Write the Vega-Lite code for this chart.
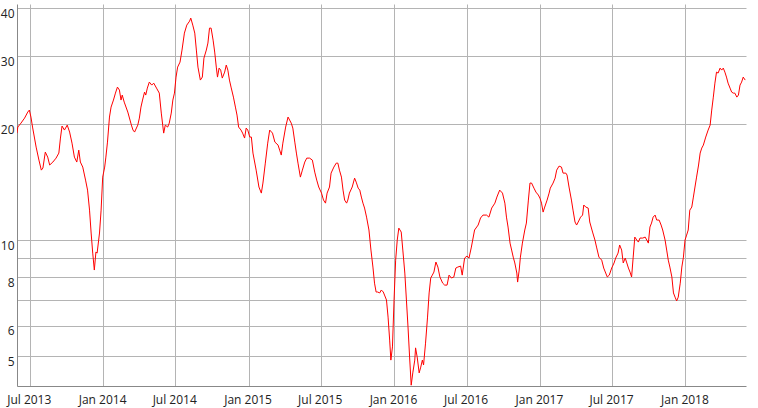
{
  "$schema": "https://vega.github.io/schema/vega-lite/v6.json",
  "width": 729,
  "height": 382,
  "autosize": {"type": "none"},
  "padding": {"left": 17, "top": 4, "right": 12, "bottom": 22},
  "background": "white",
  "config": {
    "view": {"stroke": null},
    "font": "Open Sans",
    "axis": {
      "domainColor": "#888888",
      "gridColor": "#b4b4b4",
      "ticks": false,
      "tickSize": 0,
      "labelFont": "Open Sans",
      "labelFontSize": 12,
      "labelColor": "#222222",
      "title": null
    }
  },
  "data": {"values": [
    {"date":"2013-05-30","value":18.95},{"date":"2013-06-01","value":19.65},{"date":"2013-06-09","value":20.12},{"date":"2013-06-18","value":20.73},{"date":"2013-06-26","value":21.49},{"date":"2013-06-30","value":21.75},{"date":"2013-07-04","value":20.86},{"date":"2013-07-08","value":19.65},{"date":"2013-07-17","value":17.43},{"date":"2013-07-24","value":16.13},{"date":"2013-07-30","value":15.19},{"date":"2013-08-03","value":15.38},{"date":"2013-08-09","value":16.92},{"date":"2013-08-15","value":16.42},{"date":"2013-08-20","value":15.66},{"date":"2013-08-28","value":15.94},{"date":"2013-09-05","value":16.32},{"date":"2013-09-12","value":16.82},{"date":"2013-09-16","value":18.40},{"date":"2013-09-20","value":19.77},{"date":"2013-09-26","value":19.30},{"date":"2013-10-03","value":19.88},{"date":"2013-10-09","value":19.07},{"date":"2013-10-15","value":17.85},{"date":"2013-10-21","value":16.42},{"date":"2013-10-27","value":15.94},{"date":"2013-11-01","value":17.12},{"date":"2013-11-05","value":15.94},{"date":"2013-11-11","value":15.47},{"date":"2013-11-18","value":14.31},{"date":"2013-11-23","value":13.48},{"date":"2013-11-28","value":11.96},{"date":"2013-12-02","value":10.43},{"date":"2013-12-06","value":9.25},{"date":"2013-12-10","value":8.36},{"date":"2013-12-14","value":9.31},{"date":"2013-12-17","value":9.25},{"date":"2013-12-23","value":10.43},{"date":"2013-12-27","value":11.96},{"date":"2013-12-31","value":14.57},
    {"date":"2014-01-05","value":15.47},{"date":"2014-01-08","value":16.42},{"date":"2014-01-12","value":17.96},{"date":"2014-01-17","value":20.86},{"date":"2014-01-21","value":22.14},{"date":"2014-01-27","value":23.09},{"date":"2014-02-01","value":24.07},{"date":"2014-02-06","value":24.95},{"date":"2014-02-11","value":24.51},{"date":"2014-02-15","value":23.09},{"date":"2014-02-18","value":23.79},{"date":"2014-02-23","value":22.81},{"date":"2014-03-04","value":21.49},{"date":"2014-03-13","value":19.88},{"date":"2014-03-17","value":19.30},{"date":"2014-03-21","value":19.07},{"date":"2014-03-29","value":19.88},{"date":"2014-04-02","value":20.73},{"date":"2014-04-06","value":22.14},{"date":"2014-04-10","value":23.09},{"date":"2014-04-15","value":24.22},{"date":"2014-04-18","value":23.79},{"date":"2014-04-22","value":24.80},{"date":"2014-04-27","value":25.71},{"date":"2014-05-03","value":25.25},{"date":"2014-05-08","value":25.55},{"date":"2014-05-15","value":24.80},{"date":"2014-05-22","value":24.07},{"date":"2014-05-27","value":21.36},{"date":"2014-06-02","value":18.95},{"date":"2014-06-06","value":19.88},{"date":"2014-06-12","value":19.65},{"date":"2014-06-16","value":20.12},{"date":"2014-06-21","value":21.36},{"date":"2014-06-25","value":23.09},{"date":"2014-06-29","value":24.07},{"date":"2014-07-03","value":26.49},{"date":"2014-07-07","value":28.12},{"date":"2014-07-13","value":28.97},{"date":"2014-07-18","value":31.13},{"date":"2014-07-24","value":34.45},{"date":"2014-07-30","value":36.14},{"date":"2014-08-06","value":37.01},{"date":"2014-08-09","value":37.69},{"date":"2014-08-14","value":36.14},{"date":"2014-08-19","value":34.45},{"date":"2014-08-23","value":31.13},{"date":"2014-08-27","value":28.12},{"date":"2014-09-02","value":26.02},{"date":"2014-09-07","value":26.49},{"date":"2014-09-11","value":29.67},{"date":"2014-09-17","value":31.13},{"date":"2014-09-21","value":32.46},{"date":"2014-09-25","value":35.50},{"date":"2014-09-29","value":35.50},{"date":"2014-10-04","value":33.04},{"date":"2014-10-08","value":30.76},{"date":"2014-10-12","value":28.12},{"date":"2014-10-15","value":26.49},{"date":"2014-10-19","value":27.95},{"date":"2014-10-23","value":27.62},{"date":"2014-10-27","value":26.33},{"date":"2014-11-02","value":27.29},{"date":"2014-11-06","value":28.46},{"date":"2014-11-10","value":27.62},{"date":"2014-11-14","value":26.02},{"date":"2014-11-18","value":24.95},{"date":"2014-11-24","value":23.50},{"date":"2014-11-29","value":22.14},{"date":"2014-12-03","value":21.11},{"date":"2014-12-07","value":19.65},{"date":"2014-12-13","value":19.30},{"date":"2014-12-17","value":18.95},{"date":"2014-12-22","value":18.40},{"date":"2014-12-26","value":19.53},{"date":"2014-12-30","value":19.30},
    {"date":"2015-01-04","value":18.51},{"date":"2015-01-08","value":18.51},{"date":"2015-01-12","value":16.82},{"date":"2015-01-20","value":15.19},{"date":"2015-01-27","value":13.73},{"date":"2015-02-02","value":13.24},{"date":"2015-02-06","value":14.06},{"date":"2015-02-12","value":15.84},{"date":"2015-02-18","value":17.85},{"date":"2015-02-23","value":19.30},{"date":"2015-03-02","value":18.95},{"date":"2015-03-08","value":17.96},{"date":"2015-03-16","value":17.64},{"date":"2015-03-20","value":17.12},{"date":"2015-03-24","value":16.62},{"date":"2015-03-28","value":17.85},{"date":"2015-04-04","value":19.65},{"date":"2015-04-10","value":20.86},{"date":"2015-04-14","value":20.49},{"date":"2015-04-18","value":20.12},{"date":"2015-04-22","value":19.53},{"date":"2015-04-27","value":17.96},{"date":"2015-05-01","value":16.82},{"date":"2015-05-05","value":15.84},{"date":"2015-05-11","value":14.57},{"date":"2015-05-16","value":15.19},{"date":"2015-05-22","value":15.94},{"date":"2015-05-27","value":16.32},{"date":"2015-06-03","value":16.32},{"date":"2015-06-10","value":16.13},{"date":"2015-06-16","value":15.01},{"date":"2015-06-21","value":14.31},{"date":"2015-06-26","value":13.73},{"date":"2015-07-03","value":13.24},{"date":"2015-07-08","value":12.70},{"date":"2015-07-13","value":12.47},{"date":"2015-07-17","value":13.24},{"date":"2015-07-23","value":13.73},{"date":"2015-07-27","value":14.92},{"date":"2015-08-03","value":15.47},{"date":"2015-08-09","value":15.84},{"date":"2015-08-13","value":15.84},{"date":"2015-08-17","value":15.19},{"date":"2015-08-22","value":14.57},{"date":"2015-08-26","value":13.48},{"date":"2015-08-30","value":12.70},{"date":"2015-09-04","value":12.47},{"date":"2015-09-07","value":12.70},{"date":"2015-09-11","value":13.24},{"date":"2015-09-18","value":13.73},{"date":"2015-09-24","value":14.48},{"date":"2015-09-28","value":14.14},{"date":"2015-10-03","value":13.64},{"date":"2015-10-07","value":13.48},{"date":"2015-10-11","value":12.93},{"date":"2015-10-15","value":12.47},{"date":"2015-10-19","value":12.11},{"date":"2015-10-24","value":11.47},{"date":"2015-10-30","value":10.62},{"date":"2015-11-04","value":9.42},{"date":"2015-11-09","value":8.51},{"date":"2015-11-13","value":7.73},{"date":"2015-11-17","value":7.33},{"date":"2015-11-21","value":7.33},{"date":"2015-11-26","value":7.29},{"date":"2015-11-30","value":7.42},{"date":"2015-12-05","value":7.33},{"date":"2015-12-08","value":7.20},{"date":"2015-12-13","value":6.99},{"date":"2015-12-17","value":6.31},{"date":"2015-12-21","value":5.50},{"date":"2015-12-24","value":4.88},{"date":"2015-12-28","value":5.28},
    {"date":"2016-01-01","value":6.99},{"date":"2016-01-05","value":8.87},{"date":"2016-01-09","value":10.00},{"date":"2016-01-13","value":10.74},{"date":"2016-01-19","value":10.49},{"date":"2016-01-23","value":9.42},{"date":"2016-01-28","value":8.21},{"date":"2016-02-01","value":6.99},{"date":"2016-02-05","value":5.95},{"date":"2016-02-09","value":4.97},{"date":"2016-02-13","value":4.20},{"date":"2016-02-17","value":4.52},{"date":"2016-02-22","value":4.88},{"date":"2016-02-24","value":5.25},{"date":"2016-02-28","value":4.97},{"date":"2016-03-04","value":4.52},{"date":"2016-03-08","value":4.68},{"date":"2016-03-12","value":4.88},{"date":"2016-03-15","value":4.74},{"date":"2016-03-20","value":5.40},{"date":"2016-03-25","value":6.31},{"date":"2016-03-29","value":7.29},{"date":"2016-04-02","value":7.97},{"date":"2016-04-06","value":8.11},{"date":"2016-04-10","value":8.26},{"date":"2016-04-15","value":8.77},{"date":"2016-04-20","value":8.51},{"date":"2016-04-25","value":8.02},{"date":"2016-05-02","value":7.73},{"date":"2016-05-07","value":7.64},{"date":"2016-05-13","value":7.64},{"date":"2016-05-18","value":8.11},{"date":"2016-05-24","value":7.97},{"date":"2016-05-30","value":8.02},{"date":"2016-06-04","value":8.46},{"date":"2016-06-09","value":8.51},{"date":"2016-06-16","value":8.56},{"date":"2016-06-20","value":8.11},{"date":"2016-06-26","value":8.98},{"date":"2016-07-02","value":9.09},{"date":"2016-07-07","value":8.98},{"date":"2016-07-13","value":9.59},{"date":"2016-07-21","value":10.62},{"date":"2016-07-30","value":10.94},{"date":"2016-08-05","value":11.41},{"date":"2016-08-11","value":11.61},{"date":"2016-08-20","value":11.61},{"date":"2016-08-26","value":11.47},{"date":"2016-09-02","value":12.11},{"date":"2016-09-10","value":12.47},{"date":"2016-09-15","value":12.93},{"date":"2016-09-22","value":13.48},{"date":"2016-09-29","value":13.24},{"date":"2016-10-05","value":12.47},{"date":"2016-10-09","value":11.47},{"date":"2016-10-13","value":10.81},{"date":"2016-10-18","value":9.82},{"date":"2016-10-22","value":9.42},{"date":"2016-10-26","value":9.03},{"date":"2016-10-30","value":8.72},{"date":"2016-11-04","value":8.21},{"date":"2016-11-06","value":7.78},{"date":"2016-11-10","value":8.36},{"date":"2016-11-13","value":9.03},{"date":"2016-11-18","value":9.82},{"date":"2016-11-24","value":10.62},{"date":"2016-11-28","value":11.07},{"date":"2016-12-03","value":12.70},{"date":"2016-12-07","value":14.06},{"date":"2016-12-11","value":14.06},{"date":"2016-12-17","value":13.64},{"date":"2016-12-22","value":13.32},{"date":"2016-12-28","value":13.09},
    {"date":"2017-01-01","value":12.85},{"date":"2017-01-05","value":12.47},{"date":"2017-01-09","value":11.82},{"date":"2017-01-13","value":12.18},{"date":"2017-01-19","value":12.70},{"date":"2017-01-24","value":13.24},{"date":"2017-01-27","value":13.64},{"date":"2017-02-03","value":14.06},{"date":"2017-02-08","value":14.48},{"date":"2017-02-12","value":15.19},{"date":"2017-02-18","value":15.56},{"date":"2017-02-24","value":15.47},{"date":"2017-02-28","value":14.92},{"date":"2017-03-07","value":14.92},{"date":"2017-03-10","value":14.75},{"date":"2017-03-15","value":13.73},{"date":"2017-03-21","value":12.70},{"date":"2017-03-25","value":11.96},{"date":"2017-03-30","value":11.14},{"date":"2017-04-03","value":10.94},{"date":"2017-04-07","value":11.14},{"date":"2017-04-13","value":11.47},{"date":"2017-04-18","value":11.61},{"date":"2017-04-21","value":12.33},{"date":"2017-04-26","value":12.18},{"date":"2017-05-02","value":12.11},{"date":"2017-05-06","value":11.14},{"date":"2017-05-13","value":10.49},{"date":"2017-05-19","value":10.00},{"date":"2017-05-23","value":9.59},{"date":"2017-05-29","value":9.03},{"date":"2017-06-05","value":8.87},{"date":"2017-06-10","value":8.46},{"date":"2017-06-15","value":8.21},{"date":"2017-06-19","value":8.02},{"date":"2017-06-24","value":8.11},{"date":"2017-06-30","value":8.46},{"date":"2017-07-06","value":8.72},{"date":"2017-07-10","value":8.98},{"date":"2017-07-16","value":9.25},{"date":"2017-07-20","value":9.71},{"date":"2017-07-25","value":9.42},{"date":"2017-07-29","value":8.72},{"date":"2017-08-03","value":8.98},{"date":"2017-08-07","value":8.72},{"date":"2017-08-11","value":8.46},{"date":"2017-08-15","value":8.26},{"date":"2017-08-19","value":8.02},{"date":"2017-08-23","value":9.03},{"date":"2017-08-27","value":10.18},{"date":"2017-09-01","value":10.00},{"date":"2017-09-05","value":9.88},{"date":"2017-09-09","value":10.12},{"date":"2017-09-16","value":10.12},{"date":"2017-09-22","value":10.18},{"date":"2017-09-26","value":10.00},{"date":"2017-09-30","value":9.82},{"date":"2017-10-04","value":10.81},{"date":"2017-10-08","value":11.07},{"date":"2017-10-12","value":11.47},{"date":"2017-10-17","value":11.61},{"date":"2017-10-21","value":11.27},{"date":"2017-10-27","value":11.27},{"date":"2017-11-01","value":10.94},{"date":"2017-11-05","value":10.62},{"date":"2017-11-11","value":10.00},{"date":"2017-11-15","value":9.42},{"date":"2017-11-19","value":8.87},{"date":"2017-11-23","value":8.51},{"date":"2017-11-28","value":8.02},{"date":"2017-12-02","value":7.29},{"date":"2017-12-06","value":7.11},{"date":"2017-12-10","value":6.95},{"date":"2017-12-14","value":7.11},{"date":"2017-12-19","value":7.73},{"date":"2017-12-23","value":8.51},{"date":"2017-12-27","value":9.03},{"date":"2017-12-31","value":10.00},
    {"date":"2018-01-04","value":10.30},{"date":"2018-01-08","value":10.62},{"date":"2018-01-12","value":11.96},{"date":"2018-01-17","value":12.18},{"date":"2018-01-21","value":12.93},{"date":"2018-01-25","value":13.73},{"date":"2018-01-29","value":14.57},{"date":"2018-02-03","value":15.66},{"date":"2018-02-07","value":16.82},{"date":"2018-02-11","value":17.33},{"date":"2018-02-15","value":17.64},{"date":"2018-02-21","value":18.51},{"date":"2018-02-27","value":19.30},{"date":"2018-03-04","value":19.88},{"date":"2018-03-08","value":21.75},{"date":"2018-03-12","value":23.50},{"date":"2018-03-16","value":25.55},{"date":"2018-03-20","value":27.29},{"date":"2018-03-24","value":27.13},{"date":"2018-03-29","value":27.95},{"date":"2018-04-02","value":27.62},{"date":"2018-04-06","value":27.95},{"date":"2018-04-10","value":27.29},{"date":"2018-04-14","value":26.49},{"date":"2018-04-18","value":25.55},{"date":"2018-04-23","value":24.80},{"date":"2018-04-27","value":24.22},{"date":"2018-05-01","value":24.07},{"date":"2018-05-05","value":24.07},{"date":"2018-05-10","value":23.50},{"date":"2018-05-14","value":23.79},{"date":"2018-05-18","value":25.25},{"date":"2018-05-22","value":25.71},{"date":"2018-05-26","value":26.49},{"date":"2018-05-31","value":26.02}
  ]},
  "mark": {"type": "line", "color": "#ff0000", "strokeWidth": 1, "clip": true},
  "encoding": {
    "x": {
      "field": "date",
      "type": "temporal",
      "scale": {
        "type": "utc",
        "domain": [
          {"year": 2013, "month": 5, "date": 30, "utc": true},
          {"year": 2018, "month": 6, "date": 2, "utc": true}
        ]
      },
      "axis": {
        "values": [
          {"year": 2013, "month": 7, "date": 1, "utc": true},
          {"year": 2014, "month": 1, "date": 1, "utc": true},
          {"year": 2014, "month": 7, "date": 1, "utc": true},
          {"year": 2015, "month": 1, "date": 1, "utc": true},
          {"year": 2015, "month": 7, "date": 1, "utc": true},
          {"year": 2016, "month": 1, "date": 1, "utc": true},
          {"year": 2016, "month": 7, "date": 1, "utc": true},
          {"year": 2017, "month": 1, "date": 1, "utc": true},
          {"year": 2017, "month": 7, "date": 1, "utc": true},
          {"year": 2018, "month": 1, "date": 1, "utc": true}
        ],
        "labelExpr": "utcFormat(datum.value, '%b %Y')",
        "labelPadding": 8,
        "labelOffset": -1,
        "grid": true
      }
    },
    "y": {
      "field": "value",
      "type": "quantitative",
      "scale": {"type": "log", "domain": [4.18, 41], "nice": false},
      "axis": {
        "values": [5, 6, 7, 8, 9, 10, 20, 30, 40],
        "labelExpr": "datum.value == 7 || datum.value == 9 ? '' : datum.label",
        "labelBaseline": "top",
        "labelPadding": 3,
        "grid": true
      }
    }
  }
}
